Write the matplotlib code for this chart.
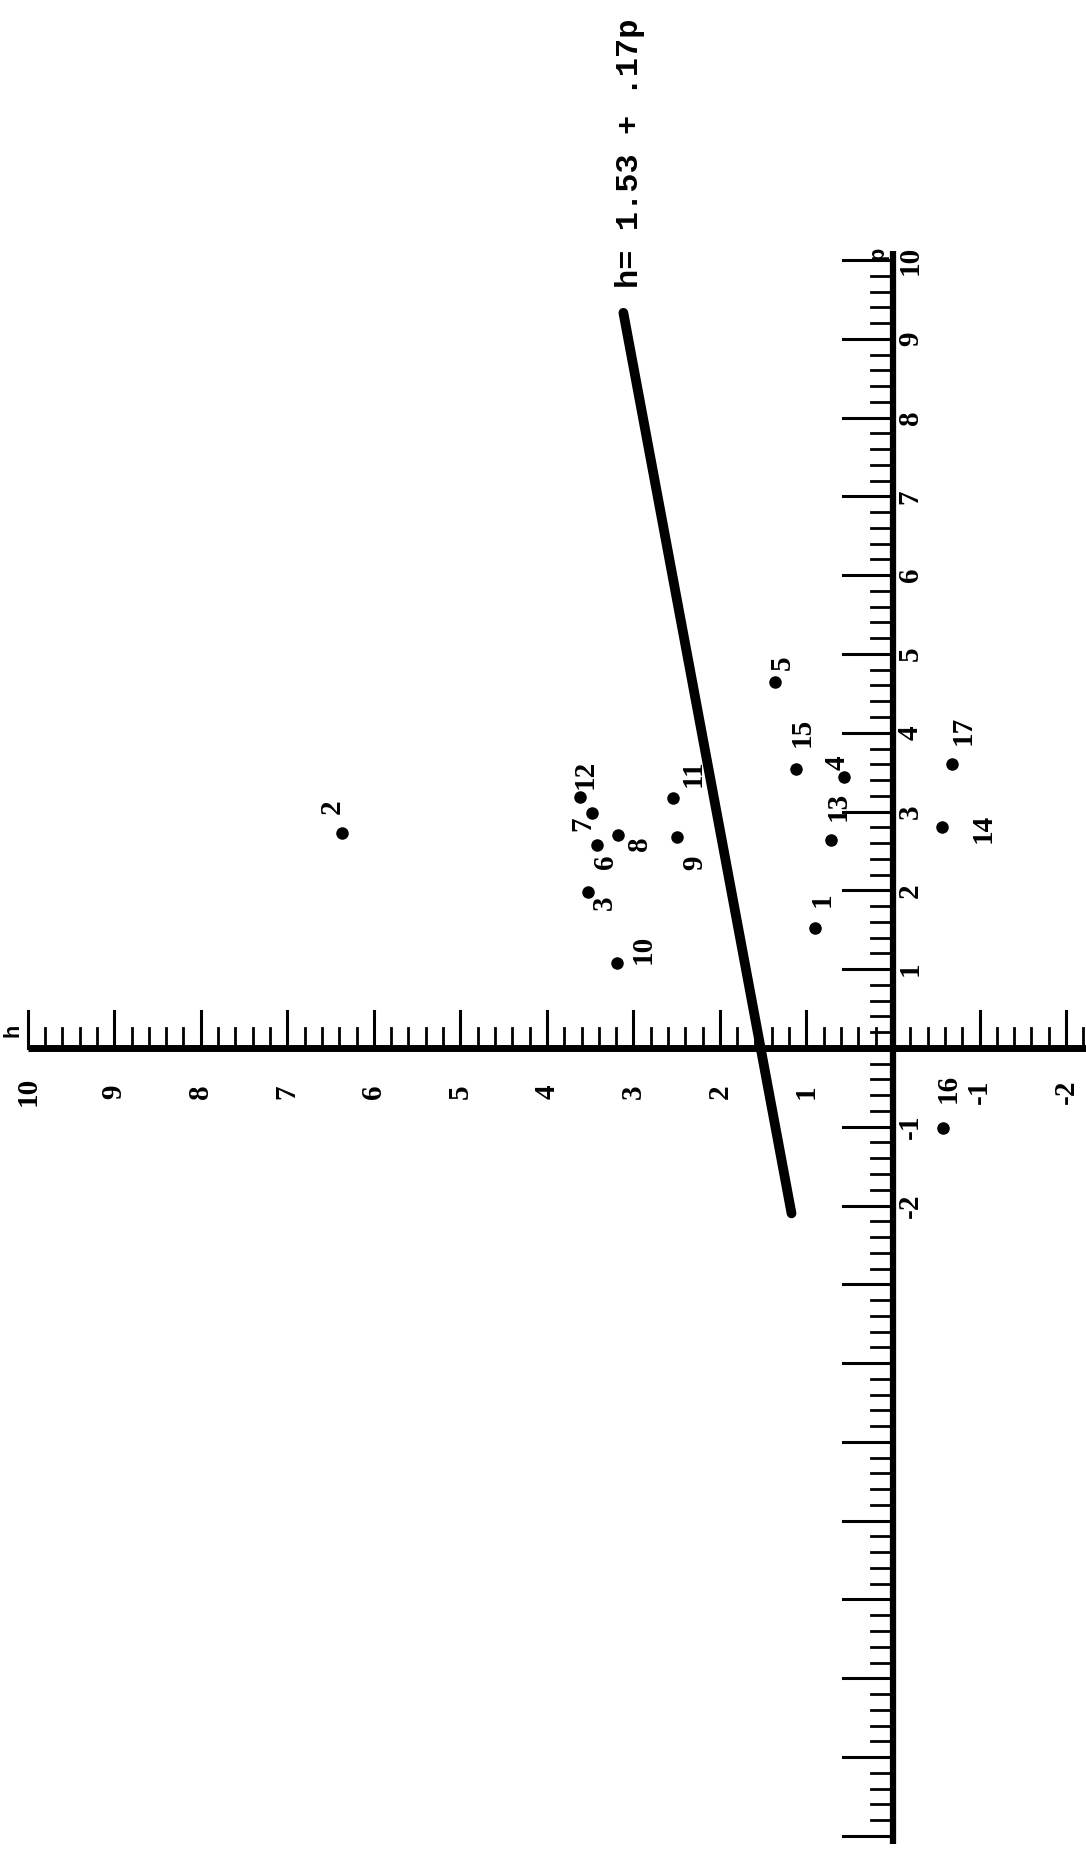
import matplotlib
matplotlib.use("Agg")
import matplotlib.pyplot as plt
import numpy as np

# observations: id, h value, p value
point_ids = [1, 2, 3, 4, 5, 6, 7, 8, 9, 10, 11, 12, 13, 14, 15, 16, 17]
h_vals = [0.90, 6.37, 3.53, 0.57, 1.36, 3.42, 3.48, 3.18, 2.50, 3.19,
          2.54, 3.62, 0.72, -0.57, 1.12, -0.58, -0.68]
p_vals = [1.52, 2.73, 1.98, 3.44, 4.64, 2.58, 2.98, 2.70, 2.68, 1.08,
          3.17, 3.19, 2.64, 2.80, 3.54, -1.02, 3.60]

# fitted line h = a + b*p
fit_a = 1.53
fit_b = 0.17
fit_p = [-2.1, 9.33]
fit_text = "h= 1.53 + .17p"

h_tick_labels = [-2, -1, 1, 2, 3, 4, 5, 6, 7, 8, 9, 10]
p_tick_labels = [-2, -1, 1, 2, 3, 4, 5, 6, 7, 8, 9, 10]

# label offsets in pixels (right, down) from each dot
label_offsets = [(7, -28), (-10, -26), (17, 11), (-7, -14), (7, -20),
                 (8, 17), (-9, 11), (22, 8), (18, 26), (26, -13),
                 (20, -25), (5, -22), (7, -33), (41, 1), (6, -37),
                 (5, -40), (11, -34)]

W, H = 1086, 1854
fig = plt.figure(figsize=(W / 100, H / 100), dpi=100)
ax = fig.add_axes([0, 0, 1, 1])
xlim = (10.32, -2.23)   # h runs right to left
ylim = (-10.23, 13.30)  # p runs bottom to top
ax.set_xlim(*xlim)
ax.set_ylim(*ylim)
ax.axis("off")

px_h = W / (xlim[0] - xlim[1])   # pixels per unit h
px_p = H / (ylim[1] - ylim[0])   # pixels per unit p

label_font = dict(family="Liberation Serif", weight="bold", size=21)

# h ruler (horizontal)
ax.plot([10.0, xlim[1]], [0, 0], color="k", lw=5, solid_capstyle="butt")
for t in np.arange(-2.2, 10.01, 0.2):
    t = round(t, 1)
    if abs(t) < 1e-6:
        continue
    major = abs(t - round(t)) < 1e-6
    ln = (37 if major else 20) / px_p
    ax.plot([t, t], [0, ln], color="k", lw=2.2 if major else 2.0)
for v in h_tick_labels:
    ax.text(v, -0.55, str(v), rotation=90, ha="center", va="center",
            **label_font)
ax.text(10.17, 0.22, "h", rotation=90, ha="center", va="center",
        family="Liberation Mono", weight="bold", size=16)

# p ruler (vertical)
ax.plot([0, 0], [-10.1, 10.12], color="k", lw=4.5, solid_capstyle="butt")
for t in np.arange(-10.0, 10.01, 0.2):
    t = round(t, 1)
    if abs(t) < 1e-6:
        continue
    major = abs(t - round(t)) < 1e-6
    ln = (50 if major else 22) / px_h
    ax.plot([0, ln], [t, t], color="k", lw=2.2 if major else 2.0)
for v in p_tick_labels:
    ax.text(-0.2, v, str(v), rotation=90, ha="center", va="center",
            **label_font)
ax.text(0.18, 10.09, "p", rotation=90, ha="center", va="center",
        family="Liberation Mono", weight="bold", size=16)

# fitted line
fp = np.array(fit_p)
ax.plot(fit_a + fit_b * fp, fp, color="k", lw=7, solid_capstyle="round")
ax.text(3.04, 11.36, fit_text, rotation=90, ha="center", va="center",
        family="Liberation Mono", weight="bold", size=23)

# points
ax.plot(h_vals, p_vals, "o", color="k", markersize=8)
for pid, h, p, (dx, dy) in zip(point_ids, h_vals, p_vals, label_offsets):
    ax.annotate(str(pid), (h, p), xytext=(dx, -dy),
                textcoords="offset pixels", rotation=90,
                ha="center", va="center", **label_font)

fig.savefig("out.png", dpi=100)
